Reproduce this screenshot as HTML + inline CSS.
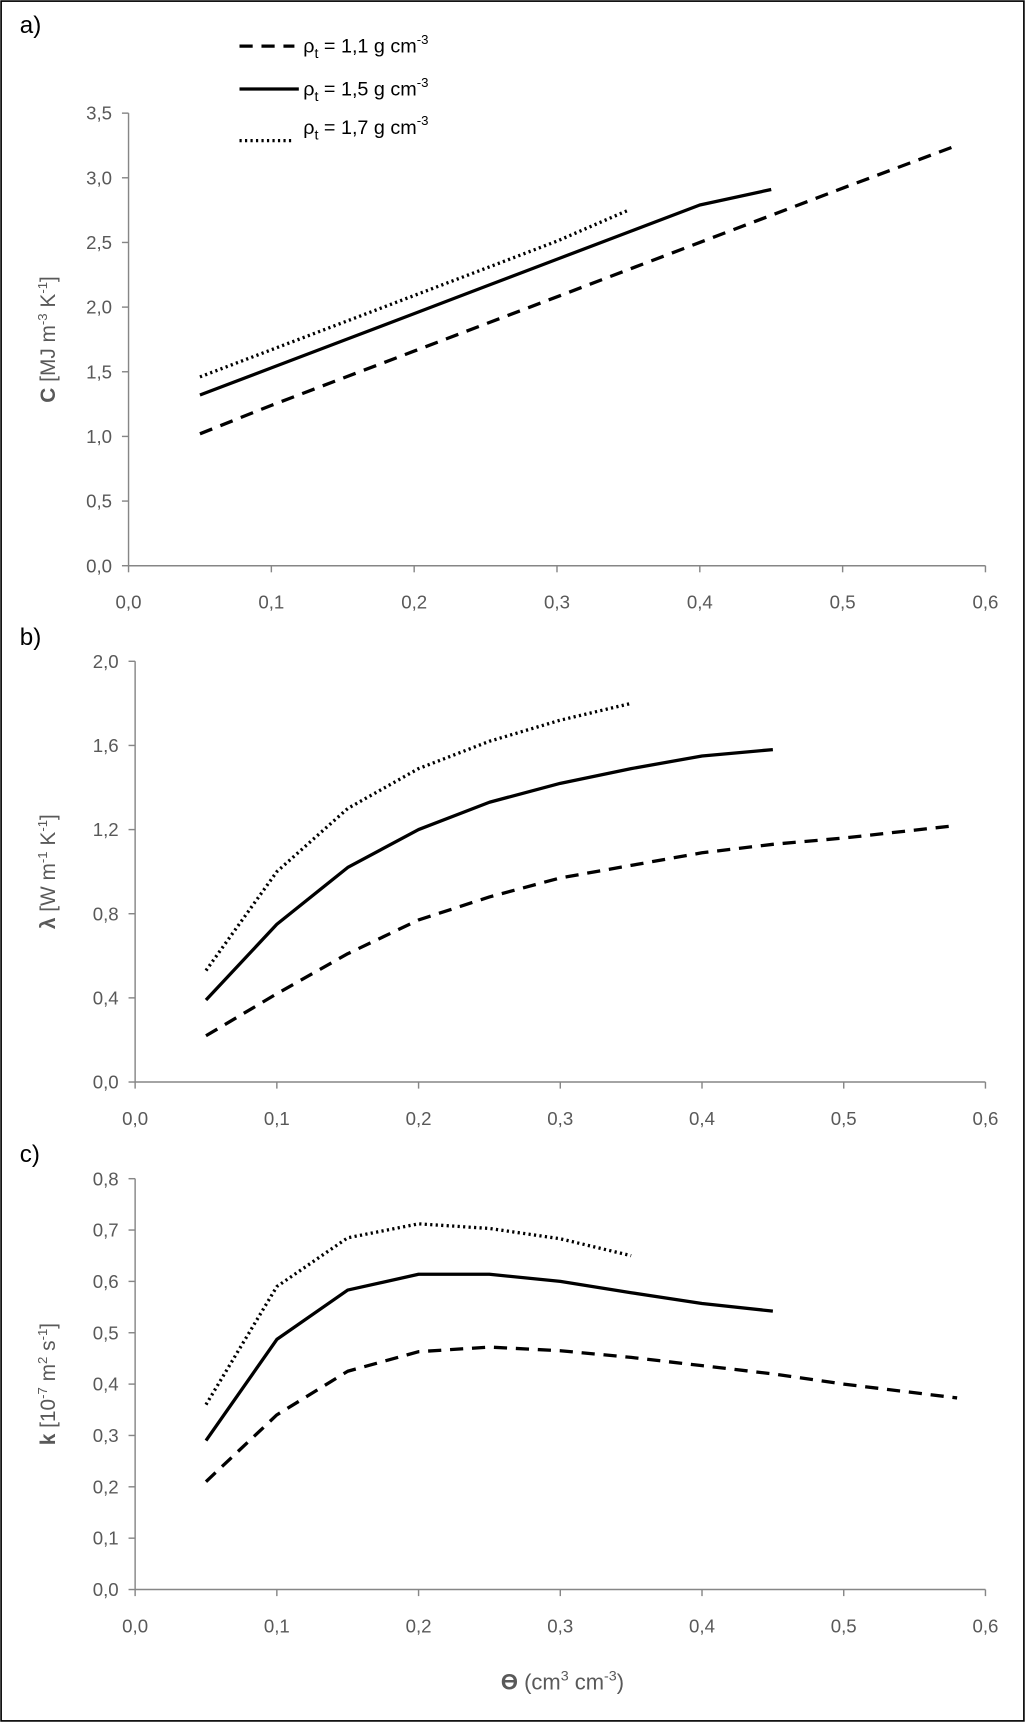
<!DOCTYPE html>
<html><head><meta charset="utf-8">
<style>
html,body{margin:0;padding:0;background:#fff;}
svg{display:block;font-family:"Liberation Sans",sans-serif;}
.tl{fill:#595959;font-size:17px;}
</style></head>
<body>
<svg id="chart" width="1025" height="1722" viewBox="0 0 933 1567.6" preserveAspectRatio="none">
<rect x="1" y="1" width="931" height="1565.6" fill="#fff" stroke="#000" stroke-width="1.5"/>
<g id="legend">
  <g>
    <line x1="218" y1="42" x2="268" y2="42" stroke="#000" stroke-width="3" stroke-dasharray="12,8"/>
    <text x="276" y="48" font-size="18" fill="#000">ρ<tspan font-size="13" dy="5">t</tspan><tspan dy="-5"> = 1,1 g cm</tspan><tspan font-size="12" dy="-8">-3</tspan></text>
  </g>
  <g>
    <line x1="218" y1="81" x2="272" y2="81" stroke="#000" stroke-width="3"/>
    <text x="276" y="87" font-size="18" fill="#000">ρ<tspan font-size="13" dy="5">t</tspan><tspan dy="-5"> = 1,5 g cm</tspan><tspan font-size="12" dy="-8">-3</tspan></text>
  </g>
  <g>
    <line x1="218" y1="128" x2="268" y2="128" stroke="#000" stroke-width="3" stroke-dasharray="2,3"/>
    <text x="276" y="122" font-size="18" fill="#000">ρ<tspan font-size="13" dy="5">t</tspan><tspan dy="-5"> = 1,7 g cm</tspan><tspan font-size="12" dy="-8">-3</tspan></text>
  </g>
</g>
<text x="18" y="30" font-size="22">a)</text>
<text x="18" y="587" font-size="22">b)</text>
<text x="18" y="1058" font-size="22">c)</text>
<text x="512" y="1538" text-anchor="middle" font-size="20" fill="#595959"><tspan font-weight="bold">ϴ</tspan> (cm<tspan font-size="13" dy="-8">3</tspan><tspan dy="8"> cm</tspan><tspan font-size="13" dy="-8">-3</tspan><tspan dy="8">)</tspan></text>
</svg>
<script>
const xVals = [0.05,0.1,0.15,0.2,0.25,0.3,0.35,0.4,0.45,0.5,0.58];
const xTicks = ["0,0","0,1","0,2","0,3","0,4","0,5","0,6"];
const aTicks = ["0,0","0,5","1,0","1,5","2,0","2,5","3,0","3,5"];
const aDashed = [1.02,1.24,1.45,1.66,1.87,2.08,2.29,2.50,2.71,2.92,3.25];
const aSolid = [1.32,1.53,1.74,1.95,2.16,2.37,2.58,2.79,2.91];
const aDotted = [1.46,1.67,1.88,2.09,2.30,2.51,2.75];
const bTicks = ["0,0","0,4","0,8","1,2","1,6","2,0"];
const bDashed = [0.22,0.42,0.61,0.77,0.88,0.97,1.03,1.09,1.13,1.16,1.22];
const bSolid = [0.39,0.75,1.02,1.20,1.33,1.42,1.49,1.55,1.58];
const bDotted = [0.53,1.00,1.30,1.49,1.62,1.72,1.80];
const cTicks = ["0,0","0,1","0,2","0,3","0,4","0,5","0,6","0,7","0,8"];
const cDashed = [0.21,0.34,0.425,0.463,0.472,0.465,0.452,0.436,0.42,0.40,0.373];
const cSolid = [0.29,0.487,0.583,0.614,0.614,0.60,0.578,0.557,0.542];
const cDotted = [0.36,0.59,0.685,0.712,0.703,0.683,0.65];

const NS="http://www.w3.org/2000/svg";
const svg=document.getElementById('chart');
function mk(tag,attrs,parent){const e=document.createElementNS(NS,tag);for(const k in attrs)e.setAttribute(k,attrs[k]);(parent||svg).appendChild(e);return e;}

function panel(p){
  const g=mk('g',{});
  
  
  const xs=v=>p.x0+(v/0.6)*(p.x1-p.x0);
  const ys=v=>p.y0-(v/p.ymax)*(p.y0-p.y1);
  const ax=mk('line',{x1:p.x0,y1:p.y0,x2:p.x1,y2:p.y0,stroke:'#868686','stroke-width':1.3},g);
  
  
  const ay=mk('line',{x1:p.x0,y1:p.y0,x2:p.x0,y2:p.y1,stroke:'#868686','stroke-width':1.3},g);
  
  
  xTicks.forEach((t,i)=>{
    const x=xs(i*0.1);
    mk('line',{x1:x,y1:p.y0,x2:x,y2:p.y0+6,stroke:'#868686','stroke-width':1.3},g);
    const tx=mk('text',{x:x,y:p.y0+39,'text-anchor':'middle',class:'tl'},g);
    tx.textContent=t;
    
    
  });
  p.ticks.forEach((t,i)=>{
    const y=ys(i*p.step);
    mk('line',{x1:p.x0-6,y1:y,x2:p.x0,y2:y,stroke:'#868686','stroke-width':1.3},g);
    const tx=mk('text',{x:p.x0-15,y:y+6,'text-anchor':'end',class:'tl'},g);
    tx.textContent=t;
    
    
  });
  const series=[[p.dashed,'12,8','dashed'],[p.solid,'','solid'],[p.dotted,'2,3','dotted']];
  series.forEach(([vals,dash,nm])=>{
    const d=vals.map((v,i)=>(i?'L':'M')+xs(xVals[i]).toFixed(1)+','+ys(v).toFixed(1)).join(' ');
    const a={d:d,fill:'none',stroke:'#000','stroke-width':3,'stroke-linejoin':'round'};
    if(dash)a['stroke-dasharray']=dash;
    const path=mk('path',a,g);
    
    
  });
  const cy=(p.y0+p.y1)/2;
  const title=mk('text',{x:0,y:0,transform:`translate(${p.tx},${cy}) rotate(-90)`,'text-anchor':'middle','font-size':19,fill:'#595959'},g);
  title.innerHTML=p.title;
  
  
}
panel({id:'a',x0:117,x1:897,y0:515,y1:103,ymax:3.5,step:0.5,ticks:aTicks,dashed:aDashed,solid:aSolid,dotted:aDotted,tx:50,
  title:'<tspan font-weight="bold">C</tspan> [MJ m<tspan font-size="12" dy="-7">-3</tspan><tspan dy="7"> K</tspan><tspan font-size="12" dy="-7">-1</tspan><tspan dy="7">]</tspan>'});
panel({id:'b',x0:123,x1:897,y0:985,y1:602,ymax:2.0,step:0.4,ticks:bTicks,dashed:bDashed,solid:bSolid,dotted:bDotted,tx:50,
  title:'<tspan font-weight="bold">λ</tspan> [W m<tspan font-size="12" dy="-7">-1</tspan><tspan dy="7"> K</tspan><tspan font-size="12" dy="-7">-1</tspan><tspan dy="7">]</tspan>'});
panel({id:'c',x0:123,x1:897,y0:1447,y1:1073,ymax:0.8,step:0.1,ticks:cTicks,dashed:cDashed,solid:cSolid,dotted:cDotted,tx:50,
  title:'<tspan font-weight="bold">k</tspan> [10<tspan font-size="12" dy="-7">-7</tspan><tspan dy="7"> m</tspan><tspan font-size="12" dy="-7">2</tspan><tspan dy="7"> s</tspan><tspan font-size="12" dy="-7">-1</tspan><tspan dy="7">]</tspan>'});
</script>
</body></html>
